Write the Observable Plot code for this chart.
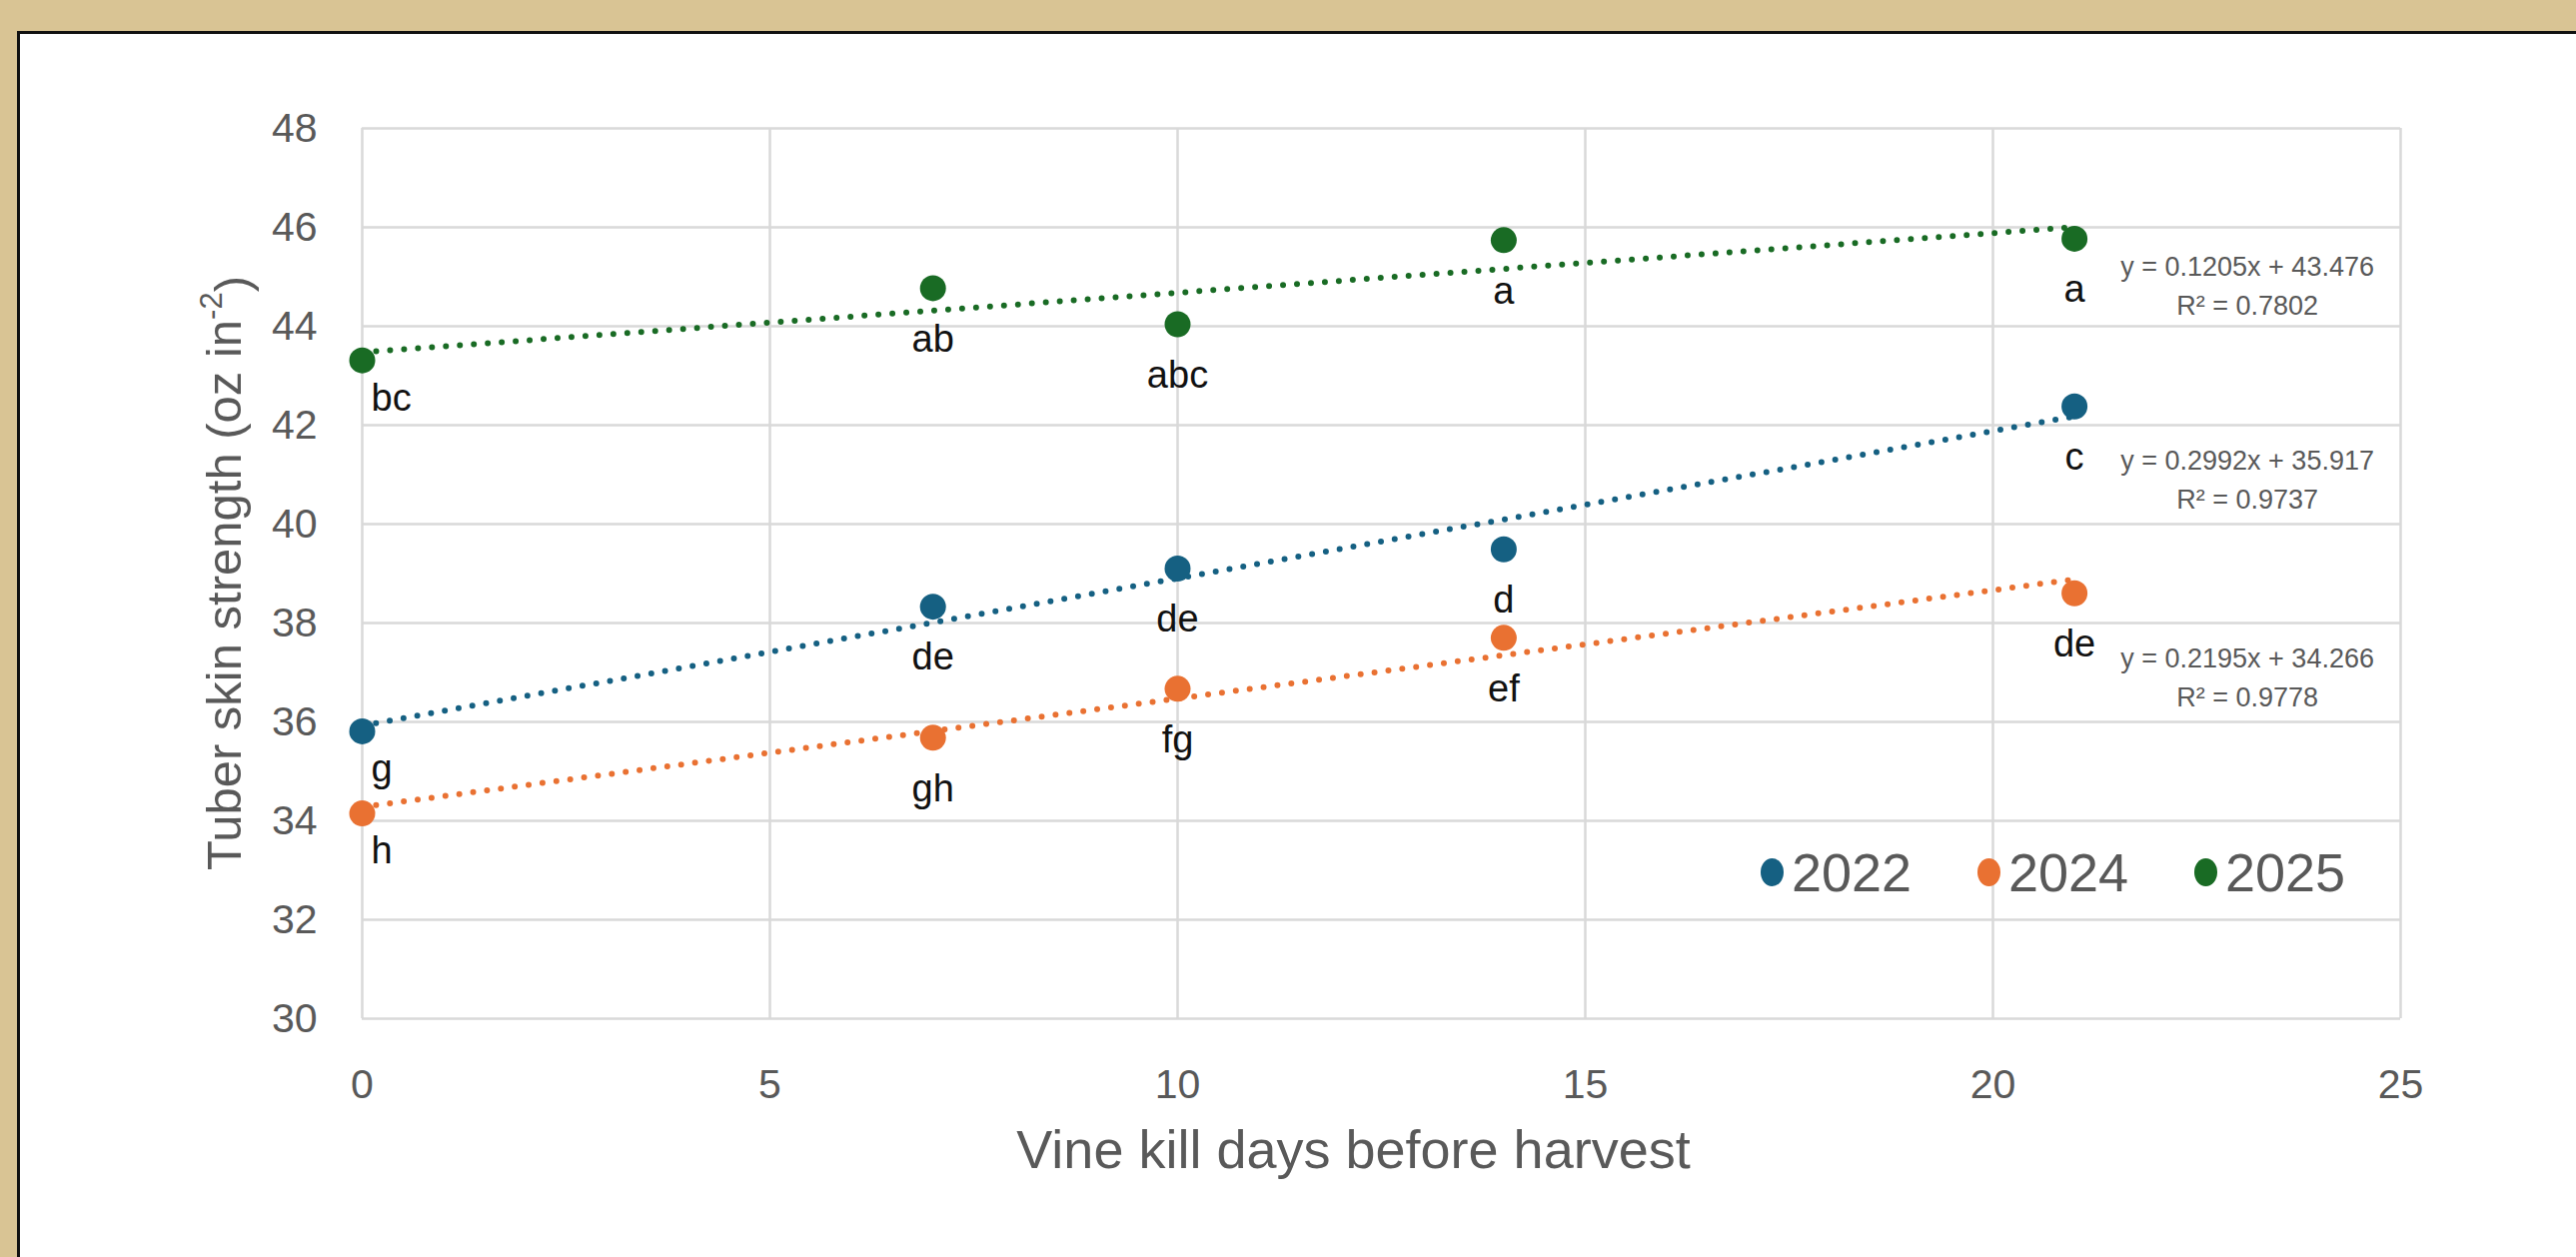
<!DOCTYPE html>
<html>
<head>
<meta charset="utf-8">
<script src="https://cdn.jsdelivr.net/npm/d3@7"></script>
<script src="https://cdn.jsdelivr.net/npm/@observablehq/plot@0.6"></script>
<style>
  html, body { margin: 0; padding: 0; }
  body { width: 2578px; height: 1258px; background: #D9C494; position: relative; overflow: hidden;
         font-family: "Liberation Sans", Arial, sans-serif; }
  #panel { position: absolute; left: 17px; top: 31px; width: 2620px; height: 1300px; background: #ffffff;
           border: 3px solid #111; box-sizing: border-box; }
  #chart { position: absolute; left: 0; top: 0; }
  #legend { position: absolute; left: 1762px; top: 846px; display: flex; }
  .item { width: 217px; display: flex; align-items: center; height: 54px; }
  .sw { width: 23px; height: 28px; border-radius: 50%; margin-right: 8px; }
  .lab { font-size: 54px; color: #595959; line-height: 54px; }
</style>
</head>
<body>
<div id="panel"></div>
<div id="chart"></div>
<div id="legend"></div>
<script>
// ---- data ----
const days = [0, 7, 10, 14, 21];
const years = ["2022", "2024", "2025"];
const colors = ["#156082", "#E97132", "#196B24"];
const strength2022 = [35.81, 38.33, 39.10, 39.49, 42.38];
const strength2024 = [34.15, 35.68, 36.67, 37.70, 38.60];
const strength2025 = [43.31, 44.77, 44.04, 45.74, 45.77];
const letters2022 = ["g", "de", "de", "d", "c"];
const letters2024 = ["h", "gh", "fg", "ef", "de"];
const letters2025 = ["bc", "ab", "abc", "a", "a"];
const equations = ["y = 0.2992x + 35.917", "y = 0.2195x + 34.266", "y = 0.1205x + 43.476"];
const rSquared = ["0.9737", "0.9778", "0.7802"];
const xTicks = [0, 5, 10, 15, 20, 25];
const yTicks = [30, 32, 34, 36, 38, 40, 42, 44, 46, 48];
const xTitle = "Vine kill days before harvest";
const yTitle = "Tuber skin strength (oz in";

const values = [strength2022, strength2024, strength2025];
const letters = [letters2022, letters2024, letters2025];
const data = [];
years.forEach((yr, i) => days.forEach((d, j) =>
  data.push({year: yr, day: d, value: values[i][j], letter: letters[i][j]})));
const lastPoints = years.map((yr, i) => ({
  year: yr, day: days[days.length - 1], value: values[i][days.length - 1],
  eq: equations[i] + "\nR² = " + rSquared[i]
}));
const eqDy = {"2022": 70, "2024": 81, "2025": 44};

const grid = {stroke: "#D9D9D9", strokeOpacity: 1, strokeWidth: 2.5};
const plot = Plot.plot({
  width: 2578, height: 1258,
  marginLeft: 362, marginRight: 176, marginTop: 128, marginBottom: 239,
  style: {background: "transparent", fontFamily: "Liberation Sans, Arial, sans-serif", color: "#595959"},
  x: {domain: [0, 25]},
  y: {domain: [30, 48]},
  color: {domain: years, range: colors},
  marks: [
    Plot.gridX(xTicks, grid),
    Plot.gridY(yTicks, grid),
    Plot.axisX(xTicks, {tickSize: 0, tickPadding: 50, fontSize: 41, fill: "#595959", label: null,
      tickFormat: d => String(d)}),
    Plot.axisY(yTicks, {tickSize: 0, tickPadding: 45, fontSize: 41, fill: "#595959", label: null,
      tickFormat: d => String(d)}),
    Plot.linearRegressionY(data, {x: "day", y: "value", stroke: "year", ci: 0,
      strokeWidth: 6, strokeDasharray: "0 14", strokeLinecap: "round"}),
    Plot.dot(data, {x: "day", y: "value", fill: "year", r: 13}),
    Plot.text(data.filter(d => d.day > 0), {x: "day", y: "value", text: "letter",
      dy: 51, fontSize: 38, fill: "#111"}),
    Plot.text(data.filter(d => d.day === 0), {x: "day", y: "value", text: "letter",
      dy: 38, dx: 9, textAnchor: "start", fontSize: 38, fill: "#111"}),
    ...years.map(yr => Plot.text(lastPoints.filter(d => d.year === yr), {x: "day", y: "value", text: "eq",
      dx: 173, dy: eqDy[yr], fontSize: 27, lineHeight: 1.45, fill: "#595959"})),
    Plot.text([xTitle], {frameAnchor: "bottom", lineAnchor: "middle", dx: -28, dy: 132, fontSize: 54, fill: "#595959"})
  ]
});
document.getElementById("chart").appendChild(plot);

// y-axis title with superscript
const svg = d3.select(plot);
const t = svg.append("text")
  .attr("transform", `translate(228, ${(128 + 1019) / 2}) rotate(-90)`)
  .attr("text-anchor", "middle")
  .attr("dominant-baseline", "middle")
  .attr("font-size", 49)
  .attr("fill", "#595959")
  .attr("font-family", "Liberation Sans, Arial, sans-serif");
t.append("tspan").text(yTitle);
t.append("tspan").attr("dy", "-0.45em").attr("font-size", 31).text("-2");
t.append("tspan").attr("dy", "0.45em").text(")");

// legend
const leg = d3.select("#legend");
years.forEach((yr, i) => {
  const it = leg.append("div").attr("class", "item");
  it.append("div").attr("class", "sw").style("background", colors[i]);
  it.append("div").attr("class", "lab").text(yr);
});
</script>
</body>
</html>
